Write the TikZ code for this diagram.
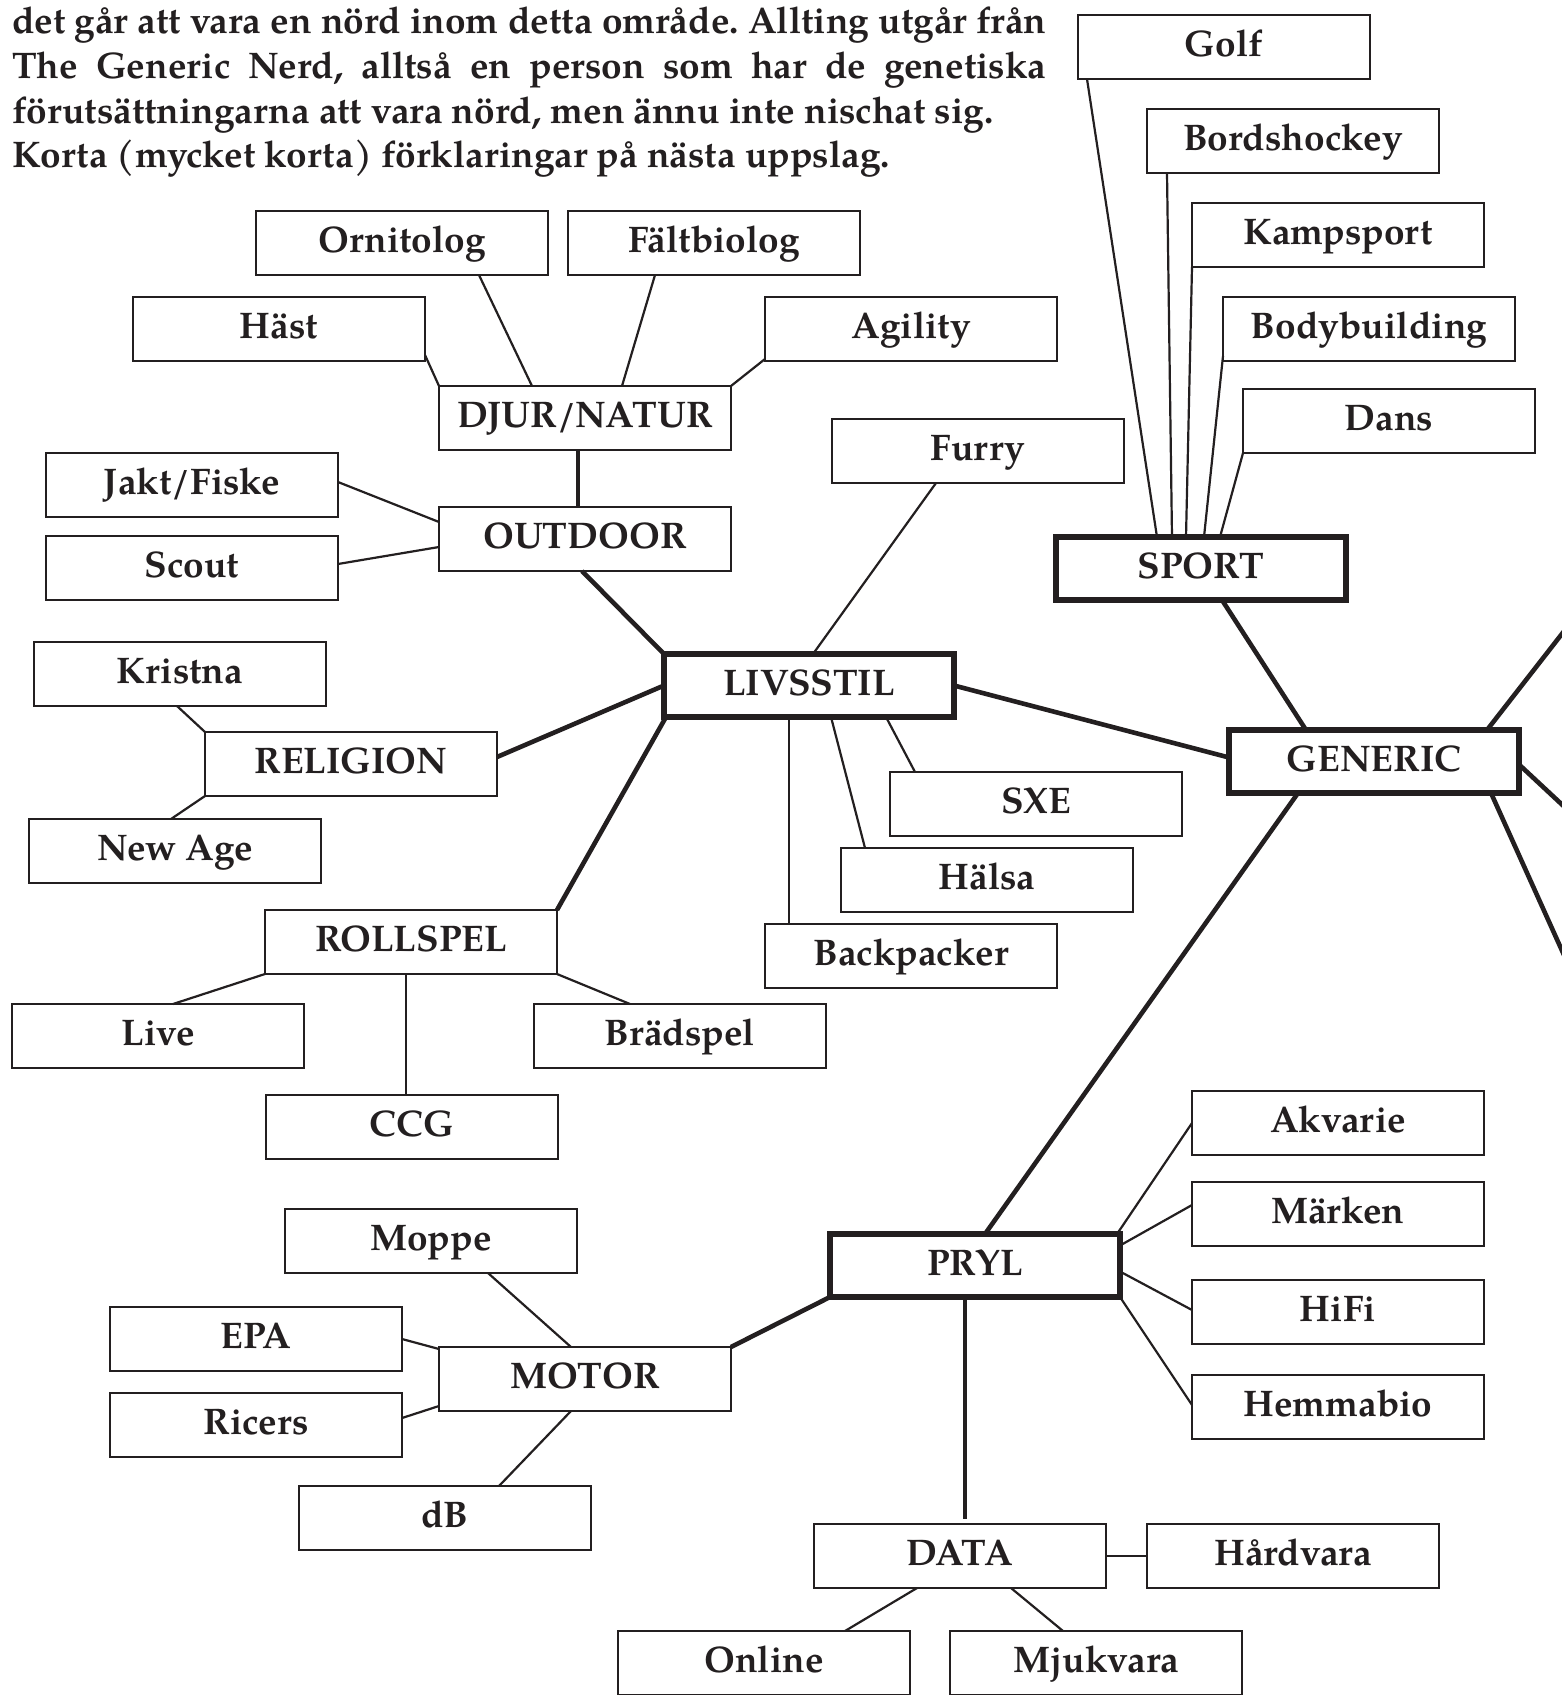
\documentclass[tikz,border=0pt]{standalone}
\usepackage{fontspec}
\setmainfont{TeX Gyre Pagella}
\usetikzlibrary{calc}
\definecolor{ink}{HTML}{231F20}
\newcommand{\lblfont}{\fontsize{37}{44}\selectfont\bfseries}
\newcommand{\parfont}{\fontsize{37}{45}\selectfont\bfseries\frenchspacing}
\tikzset{
  box/.style={draw=ink, text=ink, line width=2.4pt, minimum width=292pt, minimum height=64pt,
    inner sep=0pt, outer sep=0pt, anchor=north west, font=\lblfont, text height=27pt, text depth=8pt},
  hub/.style={box, line width=5.5pt, minimum width=290pt, minimum height=63pt},
  conn/.style={draw=ink, line width=2.2pt},
  trunk/.style={draw=ink, line width=4.6pt},
  paraline/.style={anchor=base west, inner sep=0pt, text=ink, font=\parfont}
}
\begin{document}
\begin{tikzpicture}[x=1pt,y=-1pt]
\useasboundingbox[fill=white] (0,0) rectangle (1562,1695);
% paragraph
\node[paraline] (p1) at (12,33) {\makebox[1034pt][s]{det går att vara en nörd inom detta område. Allting utgår från}};
\node[paraline] (p2) at (12,78) {\makebox[1034pt][s]{The Generic Nerd, alltså en person som har de genetiska}};
\node[paraline] (p3) at (12,123) {förutsättningarna att vara nörd, men ännu inte nischat sig.};
\node[paraline] (p4) at (12,167) {Korta (mycket korta) förklaringar på nästa uppslag.};
% sport
\node[box] (golf) at (1078,15) {Golf};
\node[box] (bord) at (1147,109) {Bordshockey};
\node[box] (kamp) at (1192,203) {Kampsport};
\node[box] (body) at (1223,297) {Bodybuilding};
\node[box] (dans) at (1243,389) {Dans};
\node[hub] (sport) at (1056,537) {SPORT};
\node[hub] (generic) at (1229,730) {GENERIC};
% djur/natur
\node[box] (orn) at (256,211) {Ornitolog};
\node[box] (falt) at (568,211) {Fältbiolog};
\node[box] (hast) at (133,297) {Häst};
\node[box] (agil) at (765,297) {Agility};
\node[box] (djur) at (439,386) {DJUR/NATUR};
\node[box] (furry) at (832,419) {Furry};
\node[box] (jakt) at (46,453) {Jakt/Fiske};
\node[box] (scout) at (46,536) {Scout};
\node[box] (outdoor) at (439,507) {OUTDOOR};
\node[hub] (livs) at (664,654) {LIVSSTIL};
\node[box] (krist) at (34,642) {Kristna};
\node[box] (relig) at (205,732) {RELIGION};
\node[box] (newage) at (29,819) {New Age};
\node[box] (sxe) at (890,772) {SXE};
\node[box] (halsa) at (841,848) {Hälsa};
\node[box] (back) at (765,924) {Backpacker};
\node[box] (roll) at (265,910) {ROLLSPEL};
\node[box] (live) at (12,1004) {Live};
\node[box] (brad) at (534,1004) {Brädspel};
\node[box] (ccg) at (266,1095) {CCG};
% pryl
\node[box] (akv) at (1192,1091) {Akvarie};
\node[box] (mark) at (1192,1182) {Märken};
\node[box] (hifi) at (1192,1280) {HiFi};
\node[box] (hemma) at (1192,1375) {Hemmabio};
\node[box] (moppe) at (285,1209) {Moppe};
\node[hub] (pryl) at (830,1234) {PRYL};
\node[box] (epa) at (110,1307) {EPA};
\node[box] (motor) at (439,1347) {MOTOR};
\node[box] (ricers) at (110,1393) {Ricers};
\node[box] (db) at (299,1486) {dB};
\node[box] (data) at (814,1524) {DATA};
\node[box] (hard) at (1147,1524) {Hårdvara};
\node[box] (online) at (618,1631) {Online};
\node[box] (mjuk) at (950,1631) {Mjukvara};
% off-page ends
\coordinate (offA) at (1600,585);
\coordinate (offB) at (1600,840);
\coordinate (offC) at (1600,1035);

% sport connectors
\draw[conn] ([xshift=9pt]golf.south west) -- ([xshift=101pt]sport.north west);
\draw[conn] ([xshift=20pt]bord.south west) -- ([xshift=116pt]sport.north west);
\draw[conn] (kamp.south west) -- ([xshift=130pt]sport.north west);
\draw[conn] ([yshift=5pt]body.south west) -- ([xshift=148pt]sport.north west);
\draw[conn] (dans.south west) -- ([xshift=164pt]sport.north west);
\draw[trunk] ([xshift=166pt]sport.south west) -- ([xshift=77pt]generic.north west);
\draw[trunk] ([xshift=258pt]generic.north west) -- (offA);
\draw[trunk] ([yshift=-3pt]generic.east) -- (offB);
\draw[trunk] ([xshift=262pt]generic.south west) -- (offC);
% djur / outdoor
\draw[conn] ([yshift=6pt]hast.south east) -- (djur.north west);
\draw[conn] ([xshift=223pt]orn.south west) -- ([xshift=93pt]djur.north west);
\draw[conn] ([xshift=87pt]falt.south west) -- ([xshift=183pt]djur.north west);
\draw[conn] ([yshift=2pt]agil.south west) -- (djur.north east);
\draw[trunk] ([xshift=139pt]djur.south west) -- ([xshift=139pt]outdoor.north west);
\draw[conn] ([yshift=3pt]jakt.east) -- ([yshift=17pt]outdoor.west);
\draw[conn] ([yshift=4pt]scout.east) -- ([yshift=-8pt]outdoor.west);
\draw[trunk] ([xshift=143pt]outdoor.south west) -- (livs.north west);
% livsstil
\draw[conn] ([xshift=104pt]furry.south west) -- ([xshift=149pt]livs.north west);
\draw[trunk] (livs.west) -- ([yshift=7pt]relig.east);
\draw[trunk] ([xshift=2pt]livs.south west) -- (roll.north east);
\draw[trunk] (livs.east) -- ([yshift=4pt]generic.west);
\draw[conn] ([xshift=222pt]livs.south west) -- ([xshift=25pt]sxe.north west);
\draw[conn] ([xshift=167pt]livs.south west) -- ([xshift=24pt]halsa.north west);
\draw[conn] ([xshift=125pt]livs.south west) -- ([xshift=24pt]back.north west);
\draw[conn] ([xshift=143pt]krist.south west) -- (relig.north west);
\draw[conn] ([xshift=142pt]newage.north west) -- (relig.south west);
\draw[conn] (roll.south west) -- ([xshift=161pt]live.north west);
\draw[conn] ([xshift=141pt]roll.south west) -- ([xshift=140pt]ccg.north west);
\draw[conn] (roll.south east) -- ([xshift=96pt]brad.north west);
% pryl
\draw[trunk] ([xshift=69pt]generic.south west) -- ([xshift=155pt]pryl.north west);
\draw[conn] (akv.west) -- ([xshift=-3pt]pryl.north east);
\draw[conn] ([yshift=9pt]mark.west) -- ([yshift=20pt]pryl.east);
\draw[conn] ([yshift=2pt]hifi.west) -- ([yshift=-6pt]pryl.east);
\draw[conn] ([yshift=2pt]hemma.west) -- (pryl.south east);
\draw[trunk] (pryl.south west) -- (motor.north east);
\draw[trunk] ([xshift=135pt]pryl.south west) -- ([xshift=151pt,yshift=5pt]data.north west);
\draw[conn] ([xshift=203pt]moppe.south west) -- ([xshift=132pt]motor.north west);
\draw[conn] (epa.east) -- ([yshift=-2pt]motor.north west);
\draw[conn] ([yshift=7pt]ricers.east) -- ([yshift=5pt]motor.south west);
\draw[conn] ([xshift=200pt]db.north west) -- ([xshift=132pt]motor.south west);
\draw[conn] (data.east) -- (hard.west);
\draw[conn] ([xshift=103pt]data.south west) -- ([xshift=227pt]online.north west);
\draw[conn] ([xshift=197pt]data.south west) -- ([xshift=113pt]mjuk.north west);
\end{tikzpicture}
\end{document}
